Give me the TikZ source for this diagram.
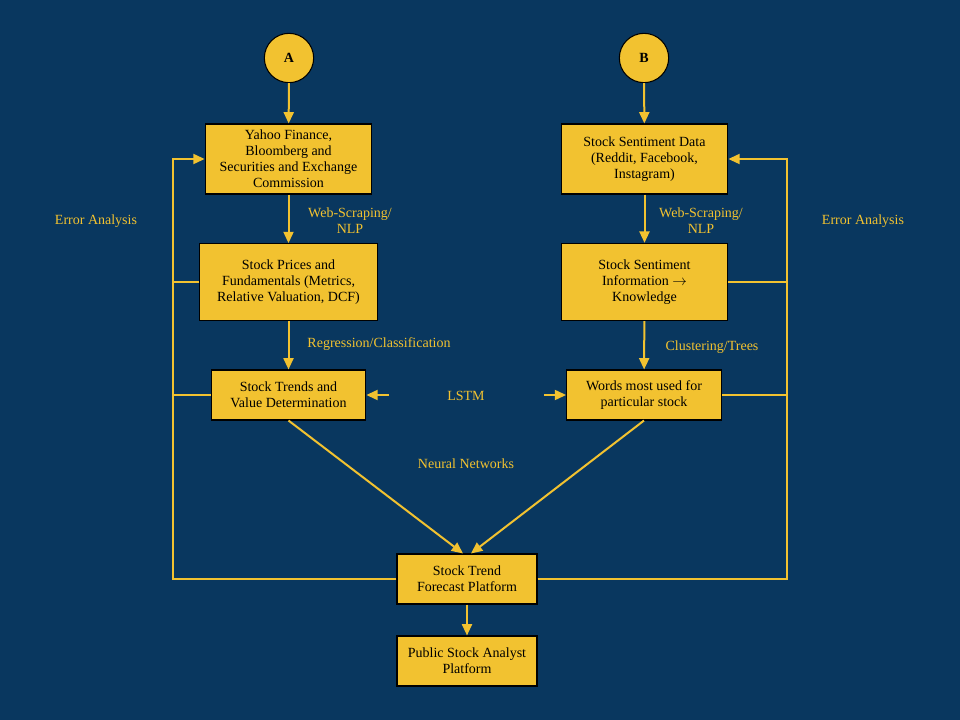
\documentclass[tikz,border=0pt]{standalone}
\usepackage{fontspec}
\setmainfont{Liberation Serif}
\usetikzlibrary{arrows.meta}

\definecolor{navy}{HTML}{09375F}
\definecolor{gold}{HTML}{F2C230}

\tikzset{
	every node/.style = {font=\fontsize{10.5pt}{12pt}\selectfont},
	stage/.style = {draw=black, line width=0.8pt, fill=gold, text=black, align=center, inner sep=2pt},
	start/.style = {circle, draw=black, line width=0.8pt, fill=gold, text=black, minimum size=37pt, font=\fontsize{10.5pt}{12pt}\selectfont\bfseries},
	flow/.style = {draw=gold, line width=1.5pt, -{Triangle[length=8.5pt, width=7.5pt]}},
	link/.style = {draw=gold, line width=1.5pt},
	tag/.style = {text=gold, align=center}
}

\begin{document}
\begin{tikzpicture}[x=0.75pt, y=-0.75pt]
	\fill[navy] (0,0) rectangle (960,720);

	% sources
	\node[start] (a) at (289,58) {A};
	\node[start] (b) at (644,58) {B};

	% left column
	\node[stage, minimum width=125pt, minimum height=52.5pt] (a1) at (288.5,159) {Yahoo Finance,\\Bloomberg and\\Securities and Exchange\\Commission};
	\node[stage, minimum width=133pt, minimum height=57.5pt] (a2) at (288.5,282) {Stock Prices and\\Fundamentals (Metrics,\\Relative Valuation, DCF)};
	\node[stage, minimum width=116pt, minimum height=37.5pt] (a3) at (288.5,395) {Stock Trends and\\Value Determination};

	% right column
	\node[stage, minimum width=125pt, minimum height=52.5pt] (b1) at (644.5,159) {Stock Sentiment Data\\(Reddit, Facebook,\\Instagram)};
	\node[stage, minimum width=125pt, minimum height=58pt] (b2) at (644.5,282) {Stock Sentiment\\Information $\rightarrow$\\Knowledge};
	\node[stage, minimum width=116pt, minimum height=37.5pt] (b3) at (644,395) {Words most used for\\particular stock};

	% outputs
	\node[stage, minimum width=105pt, minimum height=37.5pt] (c1) at (467,579) {Stock Trend\\Forecast Platform};
	\node[stage, minimum width=105pt, minimum height=37.5pt] (c2) at (467,661) {Public Stock Analyst\\Platform};

	% main flow
	\draw[flow] (a) -- (a1);
	\draw[flow] (a1) -- (a2);
	\draw[flow] (a2) -- (a3);
	\draw[flow] (b) -- (b1);
	\draw[flow] (b1) -- (b2);
	\draw[flow] (b2) -- (b3);
	\draw[flow] (a3.south) -- ([xshift=-3pt]c1.north);
	\draw[flow] (b3.south) -- ([xshift=3pt]c1.north);
	\draw[flow] (c1) -- (c2);

	% LSTM arrows
	\node[tag] (lstm) at (466,396) {LSTM};
	\coordinate (lstml) at (389,395);
	\coordinate (lstmr) at (544,395);
	\draw[flow] (lstml) -- (a3.east);
	\draw[flow] (lstmr) -- (b3.west);

	% error analysis loops
	\coordinate (errl) at (173,0);
	\coordinate (errr) at (787,0);
	\draw[flow] (c1.west) -| (errl |- a1.west) -- (a1.west);
	\draw[link] (a2.west) -- (errl |- a2.west);
	\draw[link] (a3.west) -- (errl |- a3.west);
	\draw[flow] (c1.east) -| (errr |- b1.east) -- (b1.east);
	\draw[link] (b2.east) -- (errr |- b2.east);
	\draw[link] (b3.east) -- (errr |- b3.east);

	% labels
	\node[tag] (ws1) at (350,221) {Web-Scraping/\\NLP};
	\node[tag] (ws2) at (701,221) {Web-Scraping/\\NLP};
	\node[tag] (reg) at (379,344) {Regression/Classification};
	\node[tag] (clu) at (712,347) {Clustering/Trees};
	\node[tag] (nn) at (466,464) {Neural Networks};
	\node[tag] (errA) at (96,221) {Error Analysis};
	\node[tag] (errB) at (863,221) {Error Analysis};
\end{tikzpicture}
\end{document}
